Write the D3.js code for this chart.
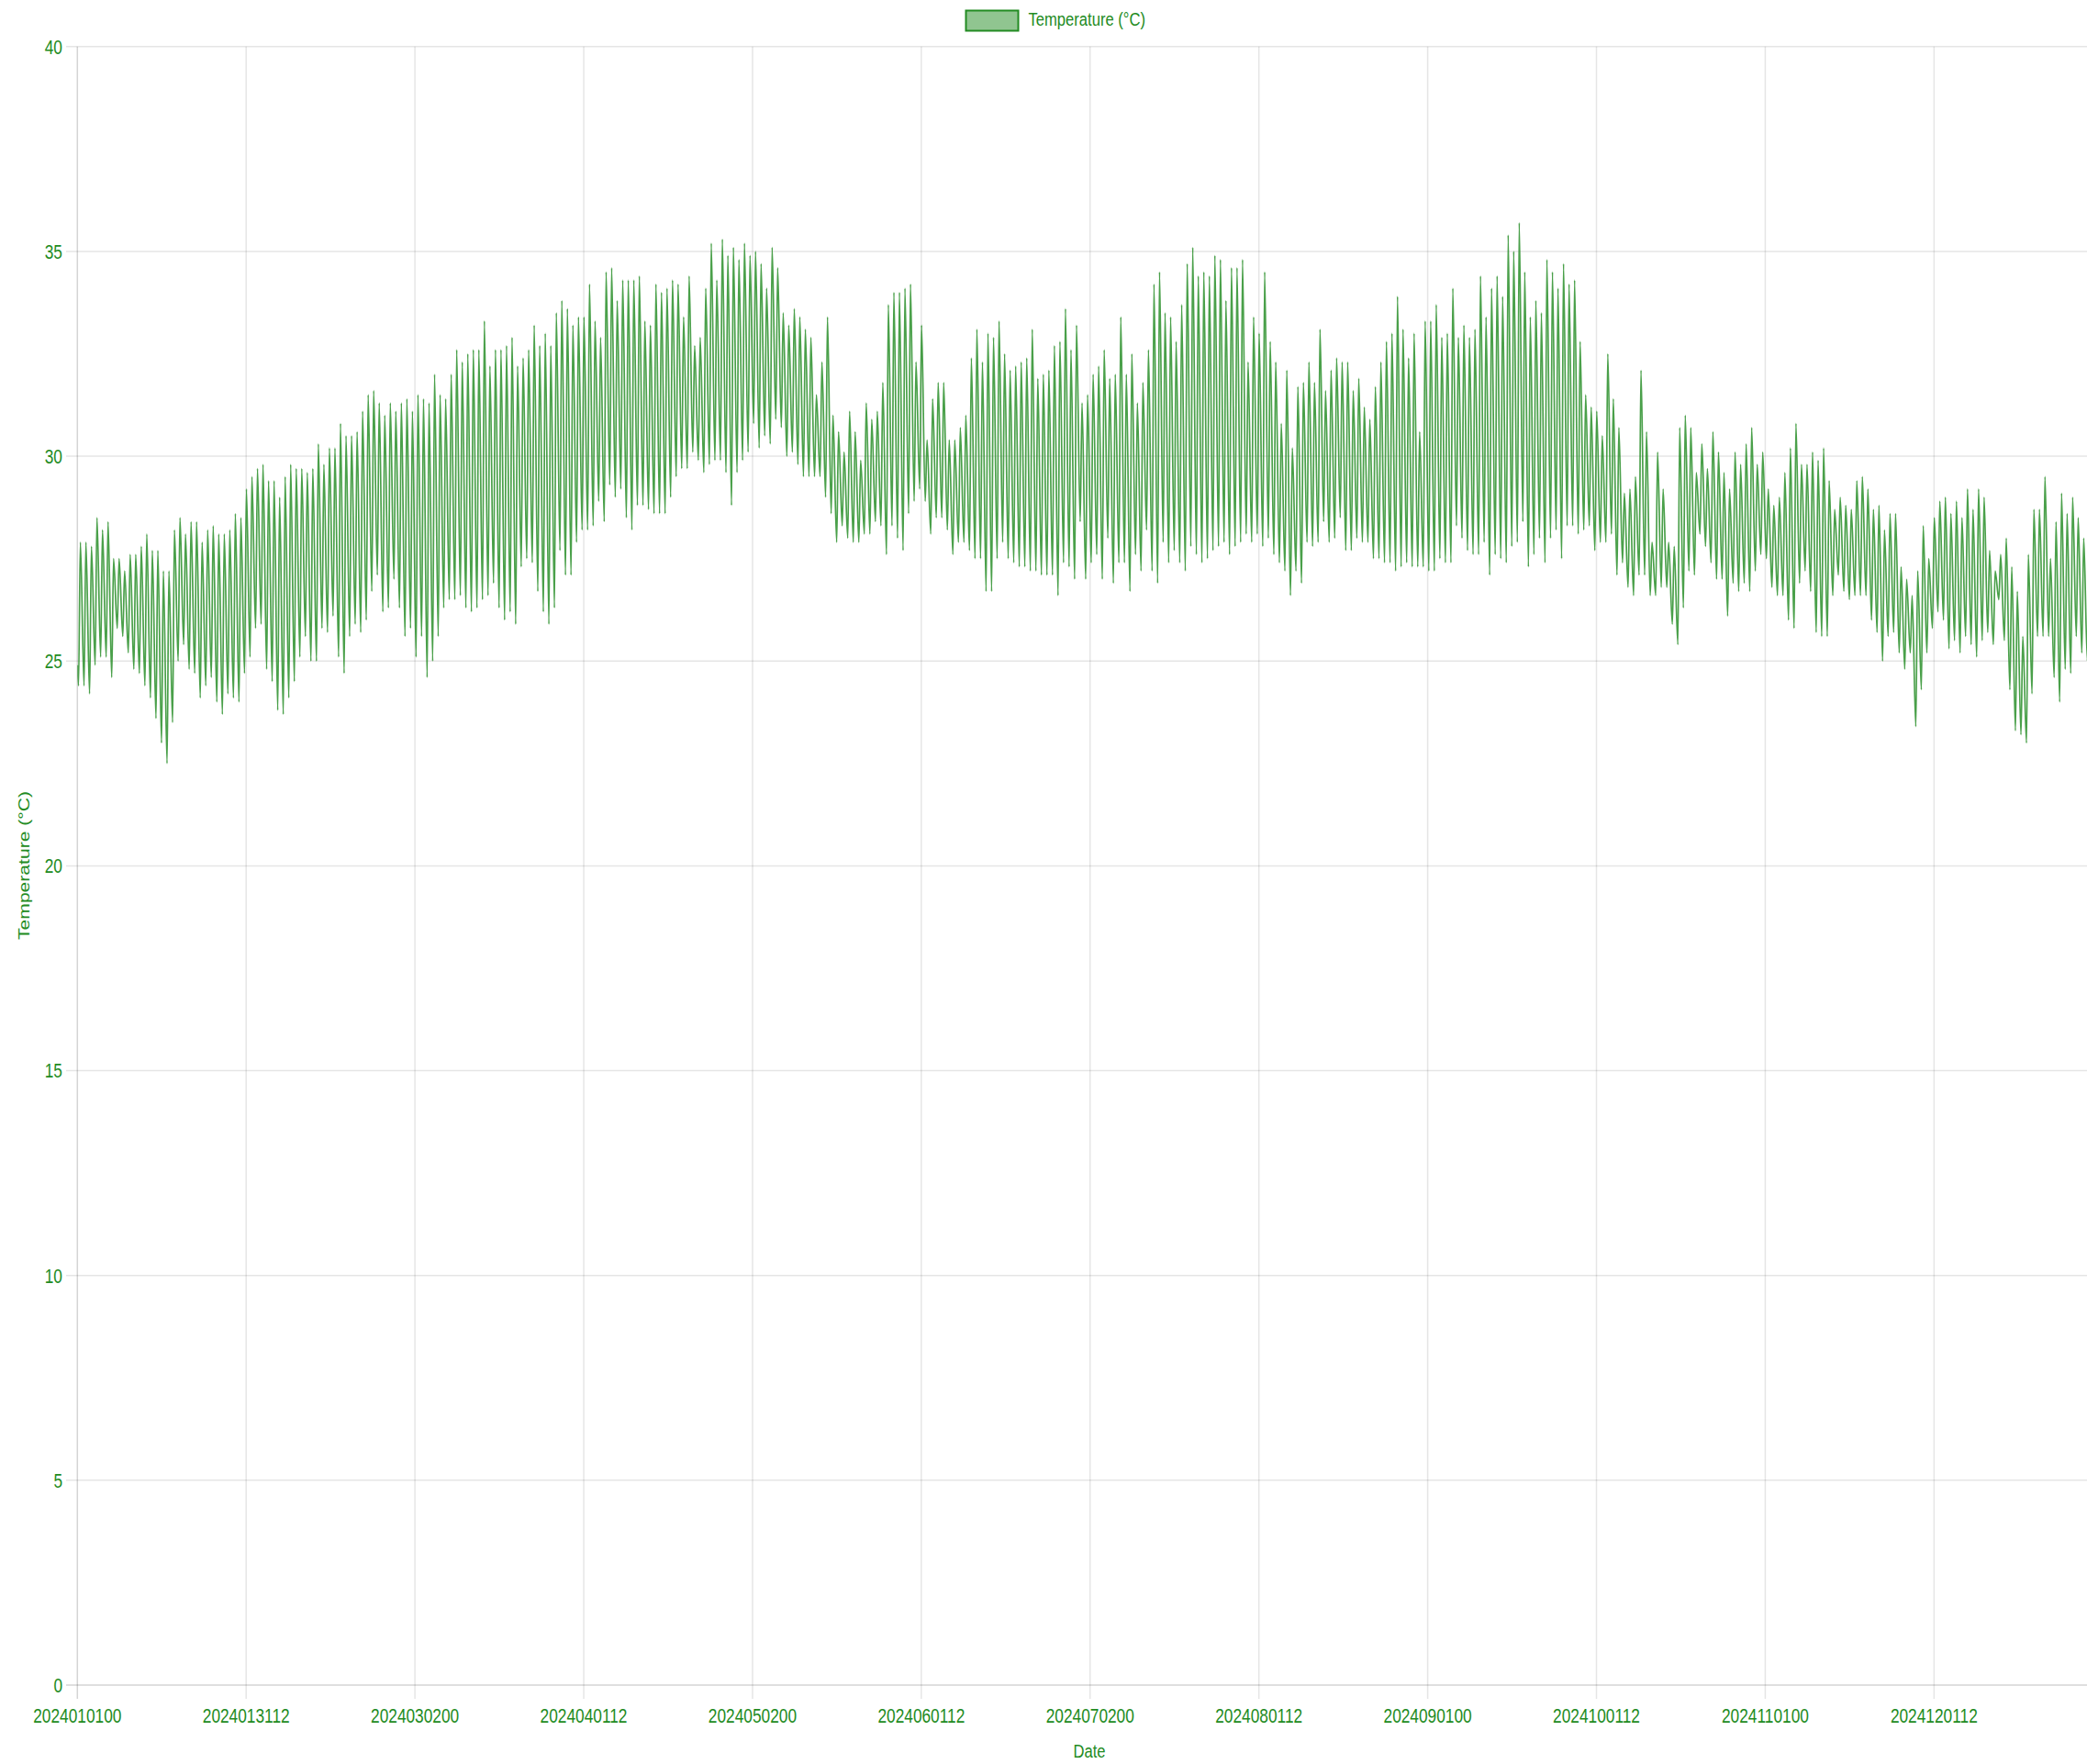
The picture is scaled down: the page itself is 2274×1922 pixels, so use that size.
<!DOCTYPE html>
<html>
<head>
<meta charset="utf-8">
<script src="https://cdn.jsdelivr.net/npm/d3@7"></script>
<style>
	body { margin: 0; background: #fff; }
	svg { display: block; font-family: "Liberation Sans", Arial, sans-serif; }
</style>
</head>
<body>
<script>
// one high (~13h) and one low (~05h) reading per day
const dailyHigh = [
	27.9, 27.9, 27.8, 28.5, 28.2, 28.4, 27.5, 27.5, 27.2, 27.6, 27.6, 27.8, 28.1, 27.7, 27.7, 27.2, 27.2, 28.2, 28.5, 28.1,
	28.4, 28.4, 27.9, 28.2, 28.3, 28.1, 28.1, 28.2, 28.6, 28.5, 29.2, 29.5, 29.7, 29.8, 29.4, 29.4, 29.0, 29.5, 29.8, 29.7,
	29.7, 29.6, 29.7, 30.3, 29.8, 30.2, 30.2, 30.8, 30.5, 30.5, 30.6, 31.1, 31.5, 31.6, 31.3, 31.0, 31.3, 31.1, 31.3, 31.4,
	31.1, 31.5, 31.4, 31.3, 32.0, 31.5, 31.4, 32.0, 32.6, 32.3, 32.5, 32.6, 32.6, 33.3, 32.2, 32.6, 32.6, 32.7, 32.9, 32.2,
	32.4, 32.6, 33.2, 32.7, 33.0, 32.7, 33.5, 33.8, 33.6, 33.2, 33.4, 33.4, 34.2, 33.3, 32.9, 34.5, 34.6, 33.8, 34.3, 34.3,
	34.3, 34.4, 33.3, 33.2, 34.2, 34.0, 34.1, 34.3, 34.2, 33.4, 34.4, 32.7, 32.9, 34.1, 35.2, 34.3, 35.3, 34.9, 35.1, 34.8,
	35.2, 34.9, 35.0, 34.7, 34.1, 35.1, 34.6, 33.5, 33.2, 33.6, 33.4, 33.1, 32.9, 31.5, 32.3, 33.4, 31.0, 30.6, 30.1, 31.1,
	30.6, 29.9, 31.3, 30.9, 31.1, 31.8, 33.7, 34.0, 34.0, 34.1, 34.2, 32.3, 33.2, 30.4, 31.4, 31.8, 31.8, 30.4, 30.4, 30.7,
	31.0, 32.4, 33.1, 32.3, 33.0, 32.9, 33.3, 32.5, 32.1, 32.2, 32.3, 32.4, 33.1, 31.9, 32.0, 32.1, 32.7, 32.8, 33.6, 32.6,
	33.2, 31.3, 31.5, 32.0, 32.2, 32.6, 31.9, 32.0, 33.4, 32.0, 32.5, 31.3, 31.8, 32.6, 34.2, 34.5, 33.5, 33.4, 32.8, 33.7,
	34.7, 35.1, 34.4, 34.5, 34.4, 34.9, 34.8, 33.8, 34.6, 34.6, 34.8, 32.3, 33.4, 33.0, 34.5, 32.8, 32.3, 30.8, 32.1, 30.2,
	31.7, 31.8, 32.3, 31.8, 33.1, 31.6, 32.1, 32.4, 32.3, 32.3, 31.6, 31.9, 31.2, 30.9, 31.7, 32.3, 32.8, 33.0, 33.9, 33.1,
	32.4, 33.0, 30.6, 33.3, 33.3, 33.7, 32.9, 33.0, 34.1, 32.9, 33.2, 32.9, 33.1, 34.4, 33.4, 34.1, 34.4, 33.9, 35.4, 35.0,
	35.7, 34.5, 33.4, 33.8, 33.5, 34.8, 34.5, 34.1, 34.7, 34.2, 34.3, 32.8, 31.5, 31.2, 31.1, 30.5, 32.5, 31.4, 30.7, 29.1,
	29.2, 29.5, 32.1, 30.6, 27.9, 30.1, 29.2, 27.9, 27.8, 30.7, 31.0, 30.7, 29.6, 30.3, 29.7, 30.6, 30.1, 29.6, 29.2, 30.1,
	29.8, 30.3, 30.7, 29.8, 30.1, 29.2, 28.8, 29.0, 29.6, 30.2, 30.8, 29.8, 29.8, 30.1, 29.9, 30.2, 29.4, 28.7, 29.0, 28.8,
	28.7, 29.4, 29.5, 29.2, 28.7, 28.8, 28.2, 28.6, 28.6, 27.3, 27.0, 26.6, 27.2, 28.3, 27.5, 28.5, 28.9, 29.0, 28.6, 28.9,
	28.5, 29.2, 28.7, 29.2, 29.0, 27.7, 27.2, 27.6, 28.0, 27.3, 26.7, 25.6, 27.6, 28.7, 28.7, 29.5, 27.5, 28.4, 29.1, 28.6,
	29.0, 28.5, 28.0, 28.4, 28.9, 28.2
];

const dailyLow = [
	24.4, 24.4, 24.2, 24.9, 25.1, 25.1, 24.6, 25.8, 25.6, 25.2, 24.8, 24.7, 24.4, 24.1, 23.6, 23.0, 22.5, 23.5, 25.0, 25.4,
	24.8, 24.7, 24.1, 24.4, 24.6, 24.0, 23.7, 24.2, 24.1, 24.0, 24.7, 25.1, 25.8, 25.9, 24.8, 24.5, 23.8, 23.7, 24.1, 24.5,
	25.1, 25.6, 25.0, 25.0, 25.8, 25.7, 26.1, 25.1, 24.7, 25.6, 25.9, 25.7, 26.0, 26.7, 27.1, 26.2, 26.3, 27.0, 26.3, 25.6,
	25.8, 25.1, 25.6, 24.6, 25.0, 25.6, 26.3, 26.5, 26.5, 26.6, 26.3, 26.2, 26.3, 26.5, 26.6, 26.9, 26.3, 26.0, 26.2, 25.9,
	27.3, 27.5, 27.4, 26.7, 26.2, 25.9, 26.3, 27.7, 27.1, 27.1, 27.9, 28.2, 28.2, 28.3, 28.9, 28.4, 29.3, 29.0, 29.2, 28.5,
	28.2, 28.8, 28.8, 28.7, 28.6, 28.6, 28.6, 29.0, 29.5, 29.7, 29.7, 30.1, 29.9, 29.6, 29.8, 29.9, 29.9, 29.6, 28.8, 29.6,
	29.9, 30.1, 30.8, 30.2, 30.5, 30.3, 30.9, 30.7, 30.0, 30.1, 29.8, 29.5, 29.5, 29.5, 29.5, 29.0, 28.6, 27.9, 28.3, 28.0,
	27.9, 27.9, 28.1, 28.1, 28.4, 28.3, 27.6, 28.3, 28.0, 27.7, 28.6, 28.9, 29.2, 28.9, 28.1, 28.5, 28.5, 28.2, 27.6, 27.9,
	27.9, 27.7, 27.5, 27.5, 26.7, 26.7, 27.5, 27.9, 27.5, 27.4, 27.3, 27.3, 27.2, 27.2, 27.1, 27.1, 27.1, 26.6, 27.4, 27.3,
	27.0, 28.4, 27.0, 27.4, 27.6, 27.0, 28.0, 26.9, 27.4, 27.4, 26.7, 27.6, 27.2, 28.2, 27.2, 26.9, 27.9, 27.4, 27.7, 27.4,
	27.2, 27.8, 27.6, 27.4, 27.5, 27.7, 27.8, 27.9, 27.6, 27.8, 27.9, 28.1, 27.9, 28.1, 27.8, 28.0, 27.6, 27.4, 27.2, 26.6,
	27.2, 26.9, 27.9, 27.8, 27.9, 28.4, 27.9, 28.0, 28.5, 27.7, 27.7, 28.0, 27.9, 27.9, 27.5, 27.5, 27.4, 27.4, 27.2, 27.3,
	27.4, 27.3, 27.3, 27.3, 27.2, 27.2, 27.5, 27.4, 27.4, 28.3, 28.0, 27.7, 27.6, 27.6, 27.9, 27.1, 27.6, 27.5, 27.4, 27.8,
	27.9, 28.4, 27.3, 27.6, 28.0, 27.4, 28.0, 28.2, 27.5, 28.3, 28.3, 28.1, 28.2, 28.3, 27.7, 27.9, 27.9, 28.1, 27.1, 27.4,
	26.8, 26.6, 27.1, 27.1, 26.6, 26.6, 26.8, 26.8, 25.9, 25.4, 26.3, 27.2, 27.1, 28.1, 27.8, 27.4, 27.0, 27.0, 26.1, 26.9,
	26.7, 26.9, 26.7, 27.2, 27.6, 27.5, 26.8, 26.6, 26.6, 26.0, 25.8, 26.9, 27.2, 26.7, 25.7, 25.6, 25.6, 26.6, 27.1, 26.7,
	26.5, 26.6, 26.6, 26.6, 26.0, 25.7, 25.0, 25.6, 25.7, 25.2, 24.8, 25.2, 23.4, 24.3, 25.2, 25.8, 26.2, 26.0, 25.3, 25.5,
	25.2, 25.6, 25.4, 25.1, 25.5, 25.7, 25.4, 26.5, 25.5, 24.3, 23.3, 23.2, 23.0, 24.2, 25.6, 25.6, 25.6, 24.6, 24.0, 24.8,
	24.7, 25.6, 25.2, 25.0, 25.4, 25.2
];

const firstValue = 24.9; // reading at 2024010100

const tickLabels = [
	"2024010100", "2024013112", "2024030200", "2024040112", "2024050200", "2024060112",
	"2024070200", "2024080112", "2024090100", "2024100112", "2024110100", "2024120112"
];
const yTicks = [0, 5, 10, 15, 20, 25, 30, 35, 40];

const seriesName = "Temperature (°C)";
const xTitle = "Date";
const yTitle = "Temperature (°C)";

const width = 2274;
const height = 1922;
const green = "rgb(34,139,34)";
const grid = "rgba(0,0,0,0.1)";
const stretch = 1.27; // glyphs in the picture are taller than wide

const parse = d3.utcParse("%Y%m%d%H");
const hour = 3600 * 1000;
const start = parse("2024010100");
const end = new Date(start.getTime() + (366 * 24 - 1) * hour);

// build the time series
const data = [{ t: start, v: firstValue }];
dailyLow.forEach((lo, d) => {
	data.push({ t: new Date(start.getTime() + (d * 24 + 5) * hour), v: lo });
	data.push({ t: new Date(start.getTime() + (d * 24 + 13) * hour), v: dailyHigh[d] });
});

const svg = d3
	.select("body")
	.append("svg")
	.attr("width", width)
	.attr("height", height);

svg.append("rect").attr("width", width).attr("height", height).attr("fill", "#fff");

const x = d3.scaleUtc().domain([start, end]).range([84.3, 2291]);
const y = d3.scaleLinear().domain([0, 40]).range([1836, 50.8]);

const tickDates = tickLabels.map(parse);

// horizontal grid
svg.append("g")
	.selectAll("line")
	.data(yTicks)
	.enter()
	.append("line")
	.attr("x1", 72)
	.attr("x2", x.range()[1])
	.attr("y1", (d) => y(d))
	.attr("y2", (d) => y(d))
	.attr("stroke", (d) => (d === 0 ? "rgba(0,0,0,0.17)" : grid))
	.attr("stroke-width", 1.5);

// vertical grid
svg.append("g")
	.selectAll("line")
	.data(tickDates)
	.enter()
	.append("line")
	.attr("x1", (d) => x(d))
	.attr("x2", (d) => x(d))
	.attr("y1", y(40))
	.attr("y2", 1851)
	.attr("stroke", (d, i) => (i === 0 ? "rgba(0,0,0,0.17)" : grid))
	.attr("stroke-width", 1.5);

// y tick labels
svg.append("g")
	.selectAll("text")
	.data(yTicks)
	.enter()
	.append("text")
	.attr("transform", (d) => `translate(68,${y(d)}) scale(1,${stretch})`)
	.attr("text-anchor", "end")
	.attr("dy", "0.36em")
	.attr("font-size", 17.3)
	.attr("fill", green)
	.text((d) => d);

// x tick labels
svg.append("g")
	.selectAll("text")
	.data(tickDates)
	.enter()
	.append("text")
	.attr("transform", (d) => `translate(${x(d)},1869) scale(1,${stretch})`)
	.attr("text-anchor", "middle")
	.attr("dy", "0.36em")
	.attr("font-size", 17.3)
	.attr("fill", green)
	.text((d, i) => tickLabels[i]);

// the line
const line = d3
	.line()
	.x((d) => x(d.t))
	.y((d) => y(d.v))
	.curve(d3.curveMonotoneX);

svg.append("defs")
	.append("clipPath")
	.attr("id", "plot")
	.append("rect")
	.attr("x", x.range()[0])
	.attr("y", 0)
	.attr("width", x.range()[1] - x.range()[0])
	.attr("height", y(0));

svg.append("path")
	.datum(data)
	.attr("clip-path", "url(#plot)")
	.attr("fill", "none")
	.attr("stroke", green)
	.attr("stroke-opacity", 0.82)
	.attr("stroke-width", 1.7)
	.attr("stroke-linejoin", "round")
	.attr("d", line);

// axis titles
svg.append("text")
	.attr("transform", `translate(1187,1907) scale(1,${stretch})`)
	.attr("text-anchor", "middle")
	.attr("dy", "0.36em")
	.attr("font-size", 16.6)
	.attr("fill", green)
	.text(xTitle);

svg.append("text")
	.attr("transform", `translate(26,943) rotate(-90) scale(${stretch},1)`)
	.attr("text-anchor", "middle")
	.attr("dy", "0.36em")
	.attr("font-size", 16.6)
	.attr("fill", green)
	.text(yTitle);

// legend
const legend = svg.append("g");
legend.append("rect")
	.attr("x", 1052.5)
	.attr("y", 11.5)
	.attr("width", 57)
	.attr("height", 22)
	.attr("fill", "rgba(34,139,34,0.5)")
	.attr("stroke", green)
	.attr("stroke-width", 2);
legend.append("text")
	.attr("transform", `translate(1120.5,20.5) scale(1,${stretch})`)
	.attr("dy", "0.36em")
	.attr("font-size", 16.6)
	.attr("fill", green)
	.text(seriesName);
</script>
</body>
</html>
